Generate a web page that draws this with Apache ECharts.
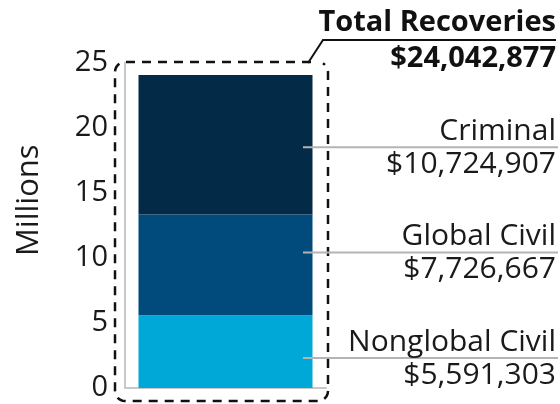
<!DOCTYPE html>
<html>
<head>
<meta charset="utf-8">
<script src="https://cdn.jsdelivr.net/npm/echarts@6/dist/echarts.min.js"></script>
<style>html,body{margin:0;padding:0;background:#fff}#c{width:560px;height:404px}</style>
</head>
<body>
<div id="c"></div>
<script>
// Data
const categories = ['Recoveries'];
const seriesNames = ['Nonglobal Civil', 'Global Civil', 'Criminal'];
const seriesValues = [5591303, 7726667, 10724907];
const totalValue = 24042877;
const yTicks = [0, 5, 10, 15, 20, 25];
const titleText = 'Total Recoveries';
const axisName = 'Millions';

// Styles
const colors = ['#00a8d8', '#004b7c', '#032b47'];
const FONT = '"Open Sans", "Noto Sans", sans-serif';
const labelAnchors = [2.3, 10.4, 18.5]; // y positions (millions) of leader lines

const fmt = v => '$' + v.toLocaleString('en-US');

const chart = echarts.init(document.getElementById('c'), null, {renderer: 'canvas'});
const option = {
  animation: false,
  grid: {left: 125, top: 62.5, bottom: 16, width: 201},
  xAxis: {
    type: 'category', data: categories,
    axisLine: {lineStyle: {color: '#c8c8c8', width: 2}},
    axisTick: {show: false}, axisLabel: {show: false}
  },
  yAxis: {
    type: 'value', min: yTicks[0], max: yTicks[yTicks.length - 1], interval: 5,
    axisLine: {show: true, lineStyle: {color: '#c8c8c8', width: 2}},
    axisTick: {show: false}, splitLine: {show: false},
    axisLabel: {fontSize: 29, color: '#1a1a1a', fontFamily: FONT, margin: 17},
    name: axisName, nameLocation: 'middle', nameRotate: 90, nameGap: 80,
    nameTextStyle: {fontSize: 31, color: '#1a1a1a', fontFamily: FONT, padding: [0, 0, 0, 50]}
  },
  series: seriesNames.map((n, i) => ({
    name: n, type: 'bar', stack: 'total', barWidth: 174,
    itemStyle: {color: colors[i]},
    data: [seriesValues[i] / 1e6]
  }))
};
chart.setOption(option);

const gfx = [];
const rightX = 556;
const LBL = '30px ' + FONT;
seriesNames.forEach((n, i) => {
  const y = chart.convertToPixel({yAxisIndex: 0}, labelAnchors[i]);
  gfx.push({type: 'line', shape: {x1: 303, y1: y, x2: 558, y2: y},
    style: {stroke: '#b4b4b4', lineWidth: 2}, z: 10});
  gfx.push({type: 'text', x: rightX, y: y - 1,
    style: {text: n, fill: '#1a1a1a', font: LBL, textAlign: 'right', textVerticalAlign: 'bottom'}, z: 10});
  gfx.push({type: 'text', x: rightX, y: y + 2,
    style: {text: fmt(seriesValues[i]), fill: '#1a1a1a', font: LBL, textAlign: 'right', textVerticalAlign: 'top'}, z: 10});
});
// Title block
gfx.push({type: 'text', x: rightX, y: 37,
  style: {text: titleText, fill: '#111', font: 'bold 29px ' + FONT, textAlign: 'right', textVerticalAlign: 'bottom'}, z: 10});
gfx.push({type: 'text', x: rightX, y: 44,
  style: {text: fmt(totalValue), fill: '#111', font: 'bold 29px ' + FONT, textAlign: 'right', textVerticalAlign: 'top'}, z: 10});

// Dashed rounded frame built from polyline points
function arc(cx, cy, r, a0, a1, n) {
  const pts = [];
  for (let k = 0; k <= n; k++) {
    const a = (a0 + (a1 - a0) * k / n) * Math.PI / 180;
    pts.push([cx + r * Math.cos(a), cy + r * Math.sin(a)]);
  }
  return pts;
}
const L = 115, T = 62, R = 328, B = 401, rr = 10;
const framePts = [[311, T]]
  .concat(arc(L + rr, T + rr, rr, 270, 180, 6))
  .concat(arc(L + rr, B - rr, rr, 180, 90, 6))
  .concat(arc(R - rr, B - rr, rr, 90, 0, 6))
  .concat(arc(R - rr, T + rr, rr, 0, -60, 5));
gfx.push({type: 'polyline', z: 5, shape: {points: framePts},
  style: {fill: null, stroke: '#111', lineWidth: 2.5, lineDash: [9, 7]}});
gfx.push({type: 'polyline', z: 5,
  shape: {points: [[308, 63], [323, 40], [556, 40]]},
  style: {fill: null, stroke: '#111', lineWidth: 2}});
chart.setOption({graphic: gfx});
</script>
</body>
</html>
